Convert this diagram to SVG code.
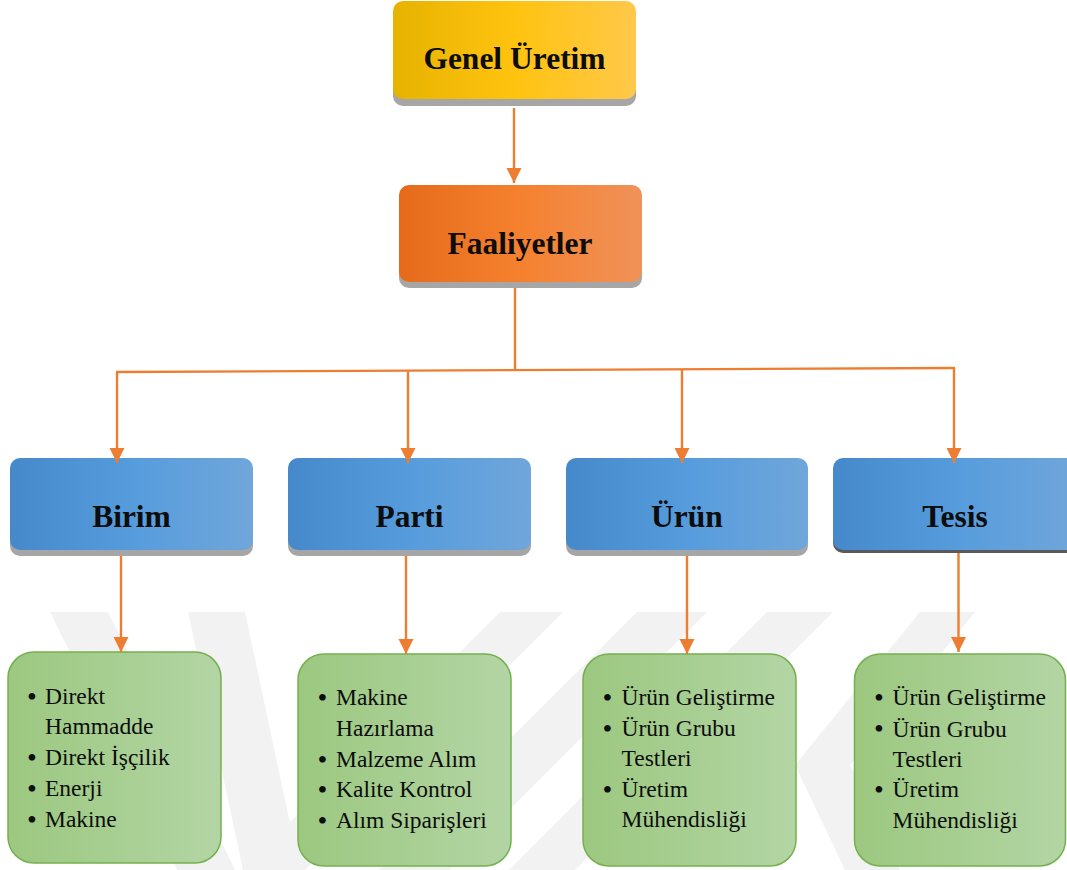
<svg xmlns="http://www.w3.org/2000/svg" width="1067" height="870" viewBox="0 0 1067 870">
  <defs>
    <linearGradient id="gGold" x1="0" y1="0" x2="1" y2="0">
      <stop offset="0" stop-color="#e6b300"/>
      <stop offset="0.5" stop-color="#ffc30f"/>
      <stop offset="1" stop-color="#ffc84a"/>
    </linearGradient>
    <linearGradient id="gOrange" x1="0" y1="0" x2="1" y2="0">
      <stop offset="0" stop-color="#e56b1b"/>
      <stop offset="0.5" stop-color="#f5812f"/>
      <stop offset="1" stop-color="#f09259"/>
    </linearGradient>
    <linearGradient id="gBlue" x1="0" y1="0" x2="1" y2="0">
      <stop offset="0" stop-color="#4589cb"/>
      <stop offset="0.5" stop-color="#569cdd"/>
      <stop offset="1" stop-color="#70a6da"/>
    </linearGradient>
    <linearGradient id="gGreen" x1="0" y1="0" x2="1" y2="0">
      <stop offset="0" stop-color="#9cc880"/>
      <stop offset="1" stop-color="#b3d5a4"/>
    </linearGradient>
    <marker id="ah" markerUnits="userSpaceOnUse" markerWidth="16" markerHeight="16" viewBox="0 0 16 16" refX="15" refY="7.5" orient="auto">
      <path d="M0,0 L15,7.5 L0,15 Z" fill="#ed7d31"/>
    </marker>
    <style>
      .wm { fill: #f2f2f2; }
      .shadow { fill: #a6a6a6; }
      .shadowDark { fill: #5a5a5a; }
      .hdr { font-weight: bold; font-size: 31.5px; fill: #0d0d0d; text-anchor: middle; }
      .item { font-size: 23.5px; fill: #0d0d0d; }
      .bul { font-size: 28px; fill: #0d0d0d; text-anchor: middle; }
      .green { fill: url(#gGreen); stroke: #75b04f; stroke-width: 1.5; }
      .conn { stroke: #ed7d31; stroke-width: 2.4; fill: none; }
    </style>
  </defs>

  <rect width="1067" height="870" fill="#ffffff"/>

  <g id="watermark">
    <polygon class="wm" points="50,612 108,612 235,870 177,870"/>
    <polygon class="wm" points="188,612 245,612 300,870 243,870"/>
    <polygon class="wm" points="500,612 563,612 305,870 242,870"/>
    <polygon class="wm" points="637,612 707,612 449,870 379,870"/>
    <polygon class="wm" points="767,612 833,612 575,870 509,870"/>
    <polygon class="wm" points="920,612 975,612 850,765 900,870 845,870 795,765"/>
  </g>

  <g font-family="Liberation Serif, Times New Roman, DejaVu Serif, serif">
  <g id="node-genel-uretim">
    <rect class="shadow" x="393" y="7" width="243" height="99" rx="10"/>
    <rect x="393" y="1" width="243" height="98" rx="10" fill="url(#gGold)"/>
    <text class="hdr" x="514.5" y="69" font-family="Liberation Serif, serif">Genel Üretim</text>
  </g>

  <g id="node-faaliyetler">
    <rect class="shadow" x="399" y="191" width="243" height="97" rx="10"/>
    <rect x="399" y="185" width="243" height="97" rx="10" fill="url(#gOrange)"/>
    <text class="hdr" x="520" y="254" font-family="Liberation Serif, serif">Faaliyetler</text>
  </g>

  <g id="node-birim">
    <rect class="shadow" x="10" y="464" width="243" height="92" rx="10"/>
    <rect x="10" y="458" width="243" height="92" rx="10" fill="url(#gBlue)"/>
    <text class="hdr" x="131.5" y="527" font-family="Liberation Serif, serif">Birim</text>
  </g>

  <g id="node-parti">
    <rect class="shadow" x="288" y="464" width="243" height="92" rx="10"/>
    <rect x="288" y="458" width="243" height="92" rx="10" fill="url(#gBlue)"/>
    <text class="hdr" x="409.5" y="527" font-family="Liberation Serif, serif">Parti</text>
  </g>

  <g id="node-urun">
    <rect class="shadow" x="566" y="464" width="242" height="92" rx="10"/>
    <rect x="566" y="458" width="242" height="92" rx="10" fill="url(#gBlue)"/>
    <text class="hdr" x="687" y="527" font-family="Liberation Serif, serif">Ürün</text>
  </g>

  <g id="node-tesis">
    <rect class="shadowDark" x="833" y="461" width="244" height="92" rx="10"/>
    <rect x="833" y="458" width="244" height="92" rx="10" fill="url(#gBlue)"/>
    <text class="hdr" x="955" y="527" font-family="Liberation Serif, serif">Tesis</text>
  </g>

  <g id="node-birim-items" font-family="Liberation Serif, serif">
    <rect class="green" x="8" y="652" width="213" height="211" rx="26"/>
    <text class="bul" x="32" y="705.5">•</text>
    <text class="item" x="45" y="704">Direkt</text>
    <text class="item" x="45" y="734">Hammadde</text>
    <text class="bul" x="32" y="766.5">•</text>
    <text class="item" x="45" y="765">Direkt İşçilik</text>
    <text class="bul" x="32" y="797.5">•</text>
    <text class="item" x="45" y="796">Enerji</text>
    <text class="bul" x="32" y="828.5">•</text>
    <text class="item" x="45" y="827">Makine</text>
  </g>

  <g id="node-parti-items" font-family="Liberation Serif, serif">
    <rect class="green" x="298" y="654" width="213" height="212" rx="26"/>
    <text class="bul" x="322.5" y="706.5">•</text>
    <text class="item" x="336" y="705">Makine</text>
    <text class="item" x="336" y="736">Hazırlama</text>
    <text class="bul" x="322.5" y="768.5">•</text>
    <text class="item" x="336" y="767">Malzeme Alım</text>
    <text class="bul" x="322.5" y="798.5">•</text>
    <text class="item" x="336" y="797">Kalite Kontrol</text>
    <text class="bul" x="322.5" y="829.5">•</text>
    <text class="item" x="336" y="828">Alım Siparişleri</text>
  </g>

  <g id="node-urun-items" font-family="Liberation Serif, serif">
    <rect class="green" x="583" y="654" width="213" height="212" rx="26"/>
    <text class="bul" x="607.5" y="706.5">•</text>
    <text class="item" x="621.5" y="705">Ürün Geliştirme</text>
    <text class="bul" x="607.5" y="737.5">•</text>
    <text class="item" x="621.5" y="736">Ürün Grubu</text>
    <text class="item" x="621.5" y="766">Testleri</text>
    <text class="bul" x="607.5" y="798.5">•</text>
    <text class="item" x="621.5" y="797">Üretim</text>
    <text class="item" x="621.5" y="827">Mühendisliği</text>
  </g>

  <g id="node-tesis-items" font-family="Liberation Serif, serif">
    <rect class="green" x="854.5" y="654" width="211" height="212" rx="26"/>
    <text class="bul" x="879" y="706.5">•</text>
    <text class="item" x="892.5" y="705">Ürün Geliştirme</text>
    <text class="bul" x="879" y="738">•</text>
    <text class="item" x="892.5" y="736.5">Ürün Grubu</text>
    <text class="item" x="892.5" y="767">Testleri</text>
    <text class="bul" x="879" y="798.5">•</text>
    <text class="item" x="892.5" y="797">Üretim</text>
    <text class="item" x="892.5" y="828">Mühendisliği</text>
  </g>
  </g>

  <g id="connectors">
    <line class="conn" x1="514" y1="108" x2="514" y2="183" marker-end="url(#ah)"/>
    <line class="conn" x1="515" y1="288" x2="515" y2="369"/>
    <line class="conn" x1="116" y1="372" x2="955" y2="368"/>
    <line class="conn" x1="117" y1="372" x2="117" y2="463" marker-end="url(#ah)"/>
    <line class="conn" x1="408" y1="370.6" x2="408" y2="463" marker-end="url(#ah)"/>
    <line class="conn" x1="682" y1="369.3" x2="682" y2="463" marker-end="url(#ah)"/>
    <line class="conn" x1="954" y1="368" x2="954" y2="463" marker-end="url(#ah)"/>
    <line class="conn" x1="121" y1="556" x2="121" y2="652" marker-end="url(#ah)"/>
    <line class="conn" x1="406" y1="556" x2="406" y2="654" marker-end="url(#ah)"/>
    <line class="conn" x1="687" y1="556" x2="687" y2="654" marker-end="url(#ah)"/>
    <line class="conn" x1="958.5" y1="553" x2="958.5" y2="652" marker-end="url(#ah)"/>
  </g>
</svg>
